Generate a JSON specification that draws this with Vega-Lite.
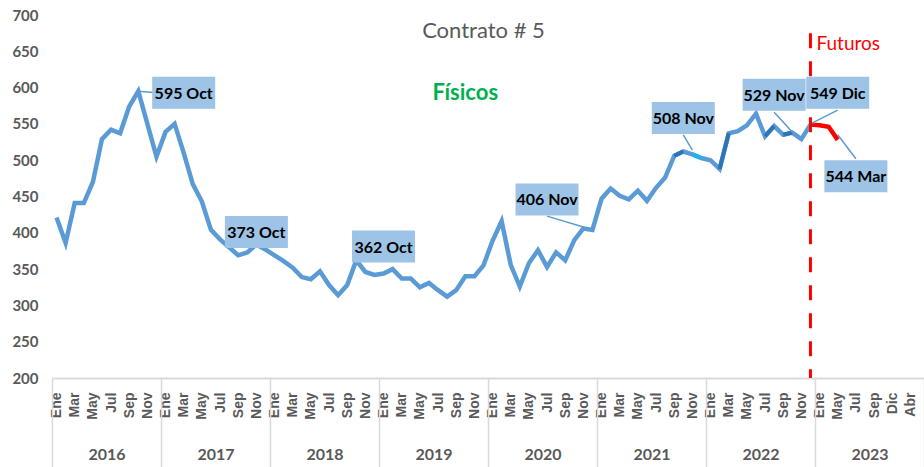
{
  "$schema": "https://vega.github.io/schema/vega-lite/v6.json",
  "width": 872,
  "height": 363,
  "autosize": {"type": "none"},
  "padding": {"left": 52, "top": 15, "right": 0, "bottom": 89},
  "background": "white",
  "config": {"view": {"stroke": null}, "font": "Lato", "axis": {"grid": false}},
  "datasets": {
    "precios": [
      {"periodo": "2016-01", "valor": 421, "serie": "Físicos"},
      {"periodo": "2016-02", "valor": 386, "serie": "Físicos"},
      {"periodo": "2016-03", "valor": 441, "serie": "Físicos"},
      {"periodo": "2016-04", "valor": 441, "serie": "Físicos"},
      {"periodo": "2016-05", "valor": 470, "serie": "Físicos"},
      {"periodo": "2016-06", "valor": 529, "serie": "Físicos"},
      {"periodo": "2016-07", "valor": 542, "serie": "Físicos"},
      {"periodo": "2016-08", "valor": 537, "serie": "Físicos"},
      {"periodo": "2016-09", "valor": 574, "serie": "Físicos"},
      {"periodo": "2016-10", "valor": 595, "serie": "Físicos"},
      {"periodo": "2016-11", "valor": 550, "serie": "Físicos"},
      {"periodo": "2016-12", "valor": 505, "serie": "Físicos"},
      {"periodo": "2017-01", "valor": 539, "serie": "Físicos"},
      {"periodo": "2017-02", "valor": 550, "serie": "Físicos"},
      {"periodo": "2017-03", "valor": 510, "serie": "Físicos"},
      {"periodo": "2017-04", "valor": 467, "serie": "Físicos"},
      {"periodo": "2017-05", "valor": 443, "serie": "Físicos"},
      {"periodo": "2017-06", "valor": 404, "serie": "Físicos"},
      {"periodo": "2017-07", "valor": 391, "serie": "Físicos"},
      {"periodo": "2017-08", "valor": 380, "serie": "Físicos"},
      {"periodo": "2017-09", "valor": 369, "serie": "Físicos"},
      {"periodo": "2017-10", "valor": 373, "serie": "Físicos"},
      {"periodo": "2017-11", "valor": 384, "serie": "Físicos"},
      {"periodo": "2017-12", "valor": 377, "serie": "Físicos"},
      {"periodo": "2018-01", "valor": 369, "serie": "Físicos"},
      {"periodo": "2018-02", "valor": 361, "serie": "Físicos"},
      {"periodo": "2018-03", "valor": 352, "serie": "Físicos"},
      {"periodo": "2018-04", "valor": 339, "serie": "Físicos"},
      {"periodo": "2018-05", "valor": 336, "serie": "Físicos"},
      {"periodo": "2018-06", "valor": 347, "serie": "Físicos"},
      {"periodo": "2018-07", "valor": 328, "serie": "Físicos"},
      {"periodo": "2018-08", "valor": 314, "serie": "Físicos"},
      {"periodo": "2018-09", "valor": 328, "serie": "Físicos"},
      {"periodo": "2018-10", "valor": 362, "serie": "Físicos"},
      {"periodo": "2018-11", "valor": 346, "serie": "Físicos"},
      {"periodo": "2018-12", "valor": 342, "serie": "Físicos"},
      {"periodo": "2019-01", "valor": 344, "serie": "Físicos"},
      {"periodo": "2019-02", "valor": 350, "serie": "Físicos"},
      {"periodo": "2019-03", "valor": 337, "serie": "Físicos"},
      {"periodo": "2019-04", "valor": 337, "serie": "Físicos"},
      {"periodo": "2019-05", "valor": 325, "serie": "Físicos"},
      {"periodo": "2019-06", "valor": 331, "serie": "Físicos"},
      {"periodo": "2019-07", "valor": 321, "serie": "Físicos"},
      {"periodo": "2019-08", "valor": 312, "serie": "Físicos"},
      {"periodo": "2019-09", "valor": 321, "serie": "Físicos"},
      {"periodo": "2019-10", "valor": 340, "serie": "Físicos"},
      {"periodo": "2019-11", "valor": 340, "serie": "Físicos"},
      {"periodo": "2019-12", "valor": 355, "serie": "Físicos"},
      {"periodo": "2020-01", "valor": 389, "serie": "Físicos"},
      {"periodo": "2020-02", "valor": 416, "serie": "Físicos"},
      {"periodo": "2020-03", "valor": 356, "serie": "Físicos"},
      {"periodo": "2020-04", "valor": 326, "serie": "Físicos"},
      {"periodo": "2020-05", "valor": 358, "serie": "Físicos"},
      {"periodo": "2020-06", "valor": 376, "serie": "Físicos"},
      {"periodo": "2020-07", "valor": 353, "serie": "Físicos"},
      {"periodo": "2020-08", "valor": 373, "serie": "Físicos"},
      {"periodo": "2020-09", "valor": 362, "serie": "Físicos"},
      {"periodo": "2020-10", "valor": 390, "serie": "Físicos"},
      {"periodo": "2020-11", "valor": 406, "serie": "Físicos"},
      {"periodo": "2020-12", "valor": 404, "serie": "Físicos"},
      {"periodo": "2021-01", "valor": 447, "serie": "Físicos"},
      {"periodo": "2021-02", "valor": 461, "serie": "Físicos"},
      {"periodo": "2021-03", "valor": 451, "serie": "Físicos"},
      {"periodo": "2021-04", "valor": 446, "serie": "Físicos"},
      {"periodo": "2021-05", "valor": 458, "serie": "Físicos"},
      {"periodo": "2021-06", "valor": 444, "serie": "Físicos"},
      {"periodo": "2021-07", "valor": 462, "serie": "Físicos"},
      {"periodo": "2021-08", "valor": 476, "serie": "Físicos"},
      {"periodo": "2021-09", "valor": 506, "serie": "Físicos"},
      {"periodo": "2021-10", "valor": 512, "serie": "Físicos"},
      {"periodo": "2021-11", "valor": 508, "serie": "Físicos"},
      {"periodo": "2021-12", "valor": 503, "serie": "Físicos"},
      {"periodo": "2022-01", "valor": 500, "serie": "Físicos"},
      {"periodo": "2022-02", "valor": 488, "serie": "Físicos"},
      {"periodo": "2022-03", "valor": 537, "serie": "Físicos"},
      {"periodo": "2022-04", "valor": 540, "serie": "Físicos"},
      {"periodo": "2022-05", "valor": 548, "serie": "Físicos"},
      {"periodo": "2022-06", "valor": 564, "serie": "Físicos"},
      {"periodo": "2022-07", "valor": 533, "serie": "Físicos"},
      {"periodo": "2022-08", "valor": 547, "serie": "Físicos"},
      {"periodo": "2022-09", "valor": 535, "serie": "Físicos"},
      {"periodo": "2022-10", "valor": 538, "serie": "Físicos"},
      {"periodo": "2022-11", "valor": 529, "serie": "Físicos"},
      {"periodo": "2022-12", "valor": 549, "serie": "Físicos"},
      {"periodo": "2022-12", "valor": 549, "serie": "Futuros"},
      {"periodo": "2023-01", "valor": 548, "serie": "Futuros"},
      {"periodo": "2023-02", "valor": 546, "serie": "Futuros"},
      {"periodo": "2023-03", "valor": 528, "serie": "Futuros"}
    ],
    "tramos": [
      {"tramo": "A", "tono": "Oscuro", "periodo": "2021-09", "valor": 506},
      {"tramo": "A", "tono": "Oscuro", "periodo": "2021-10", "valor": 512},
      {"tramo": "B", "tono": "Claro", "periodo": "2021-11", "valor": 508},
      {"tramo": "B", "tono": "Claro", "periodo": "2021-12", "valor": 503},
      {"tramo": "C", "tono": "Oscuro", "periodo": "2022-02", "valor": 488},
      {"tramo": "C", "tono": "Oscuro", "periodo": "2022-03", "valor": 537},
      {"tramo": "D", "tono": "Oscuro", "periodo": "2022-07", "valor": 533},
      {"tramo": "D", "tono": "Oscuro", "periodo": "2022-08", "valor": 547},
      {"tramo": "E", "tono": "Oscuro", "periodo": "2022-09", "valor": 535},
      {"tramo": "E", "tono": "Oscuro", "periodo": "2022-10", "valor": 538}
    ],
    "etiquetas": [
      {"periodo": "2017-03", "valor": 593, "texto": "595 Oct"},
      {"periodo": "2017-11", "valor": 401, "texto": "373 Oct"},
      {"periodo": "2019-01", "valor": 381, "texto": "362 Oct"},
      {"periodo": "2020-07", "valor": 446, "texto": "406 Nov"},
      {"periodo": "2021-10", "valor": 558, "texto": "508 Nov"},
      {"periodo": "2022-08", "valor": 590, "texto": "529 Nov"},
      {"periodo": "2023-03", "valor": 593, "texto": "549 Dic"},
      {"periodo": "2023-05", "valor": 478, "texto": "544 Mar"}
    ],
    "guias": [
      {"periodo": "2016-10", "valor": 595, "periodo2": "2016-12", "valor2": 593},
      {"periodo": "2020-07", "valor": 423, "periodo2": "2020-11", "valor2": 408},
      {"periodo": "2021-10", "valor": 535, "periodo2": "2021-11", "valor2": 514},
      {"periodo": "2022-08", "valor": 566, "periodo2": "2022-10", "valor2": 539},
      {"periodo": "2023-03", "valor": 569, "periodo2": "2022-12", "valor2": 550},
      {"periodo": "2023-05", "valor": 502, "periodo2": "2023-03", "valor2": 535}
    ]
  },
  "layer": [
    {
      "encoding": {
        "x": {
          "field": "periodo",
          "type": "ordinal",
          "scale": {
            "type": "point",
            "padding": 0.5,
            "domain": [
              "2016-01","2016-02","2016-03","2016-04","2016-05","2016-06","2016-07","2016-08","2016-09","2016-10","2016-11","2016-12",
              "2017-01","2017-02","2017-03","2017-04","2017-05","2017-06","2017-07","2017-08","2017-09","2017-10","2017-11","2017-12",
              "2018-01","2018-02","2018-03","2018-04","2018-05","2018-06","2018-07","2018-08","2018-09","2018-10","2018-11","2018-12",
              "2019-01","2019-02","2019-03","2019-04","2019-05","2019-06","2019-07","2019-08","2019-09","2019-10","2019-11","2019-12",
              "2020-01","2020-02","2020-03","2020-04","2020-05","2020-06","2020-07","2020-08","2020-09","2020-10","2020-11","2020-12",
              "2021-01","2021-02","2021-03","2021-04","2021-05","2021-06","2021-07","2021-08","2021-09","2021-10","2021-11","2021-12",
              "2022-01","2022-02","2022-03","2022-04","2022-05","2022-06","2022-07","2022-08","2022-09","2022-10","2022-11","2022-12",
              "2023-01","2023-02","2023-03","2023-04","2023-05","2023-06","2023-07","2023-08","2023-09","2023-10","2023-11","2023-12"
            ]
          },
          "axis": {
            "orient": "bottom",
            "title": null,
            "domain": false,
            "ticks": false,
            "labelAngle": -90,
            "labelAlign": "right",
            "labelBaseline": "middle",
            "labelPadding": 14,
            "labelFont": "Liberation Sans",
            "labelFontWeight": "bold",
            "labelFontSize": 14,
            "labelColor": "#595959",
            "labelOverlap": false,
            "labelExpr": "toNumber(substring(datum.value,5,7)) % 2 == 0 ? '' : (substring(datum.value,0,4) == '2023' ? ['Ene','','May','','Jul','','Sep','','Dic','','Abr',''] : ['Ene','Feb','Mar','Abr','May','Jun','Jul','Ago','Sep','Oct','Nov','Dic'])[toNumber(substring(datum.value,5,7)) - 1]"
          }
        },
        "y": {
          "field": "valor",
          "type": "quantitative",
          "scale": {"domain": [200, 700], "nice": false, "zero": false},
          "axis": {
            "title": null,
            "domain": false,
            "ticks": false,
            "grid": false,
            "values": [200, 250, 300, 350, 400, 450, 500, 550, 600, 650, 700],
            "labelFontSize": 15,
            "labelFontWeight": "bold",
            "labelColor": "#595959",
            "labelPadding": 14
          }
        }
      },
      "layer": [
        {
          "data": {"name": "precios"},
          "mark": {"type": "line", "strokeWidth": 4.5},
          "encoding": {
            "color": {
              "field": "serie",
              "type": "nominal",
              "scale": {"domain": ["Físicos", "Futuros"], "range": ["#5B9BD5", "#FF0000"]},
              "legend": null
            }
          }
        },
        {
          "data": {"name": "tramos"},
          "mark": {"type": "line", "strokeWidth": 4},
          "encoding": {
            "detail": {"field": "tramo"},
            "stroke": {
              "field": "tono",
              "type": "nominal",
              "scale": {"domain": ["Oscuro", "Claro"], "range": ["#2E75B6", "#1FB4EC"]},
              "legend": null
            }
          }
        },
        {
          "data": {"name": "guias"},
          "mark": {"type": "rule", "color": "#5B9BD5", "strokeWidth": 1.5},
          "encoding": {
            "x2": {"field": "periodo2"},
            "y2": {"field": "valor2"}
          }
        },
        {
          "data": {"values": [{"periodo": "2022-12", "valor": 675, "valor2": 200}]},
          "mark": {"type": "rule", "color": "#FF0000", "strokeWidth": 3, "strokeDash": [15, 13]},
          "encoding": {
            "y2": {"field": "valor2"}
          }
        },
        {
          "data": {"name": "etiquetas"},
          "mark": {"type": "point", "shape": "M-1,-0.508H1V0.508H-1Z", "filled": true, "fill": "#9DC3E6", "opacity": 1, "size": 3969, "strokeWidth": 0},
          "encoding": {}
        },
        {
          "data": {"name": "etiquetas"},
          "mark": {"type": "text", "fontSize": 16, "fontWeight": "bold", "color": "#000000", "align": "center", "baseline": "middle", "dy": 1},
          "encoding": {"text": {"field": "texto"}}
        },
        {
          "data": {"values": [{"periodo": "2019-12", "valor": 668, "texto": "Contrato # 5"}]},
          "mark": {"type": "text", "fontSize": 22, "color": "#595959", "align": "center", "baseline": "alphabetic"},
          "encoding": {"text": {"field": "texto"}}
        },
        {
          "data": {"values": [{"periodo": "2019-10", "valor": 583, "texto": "Físicos"}]},
          "mark": {"type": "text", "fontSize": 22, "fontWeight": "bold", "color": "#00B050", "align": "center", "baseline": "alphabetic"},
          "encoding": {"text": {"field": "texto"}}
        },
        {
          "data": {"values": [{"periodo": "2022-12", "valor": 652, "texto": "Futuros"}]},
          "mark": {"type": "text", "fontSize": 19, "color": "#FF0000", "align": "left", "baseline": "alphabetic", "dx": 6},
          "encoding": {"text": {"field": "texto"}}
        }
      ]
    },
    {
      "data": {"values": [
        {"anio": "2016"}, {"anio": "2017"}, {"anio": "2018"}, {"anio": "2019"},
        {"anio": "2020"}, {"anio": "2021"}, {"anio": "2022"}, {"anio": "2023"}
      ]},
      "mark": {"type": "tick", "opacity": 0},
      "encoding": {
        "x": {
          "field": "anio",
          "type": "ordinal",
          "scale": {"type": "band", "paddingInner": 0, "paddingOuter": 0, "domain": ["2016", "2017", "2018", "2019", "2020", "2021", "2022", "2023"]},
          "axis": {
            "orient": "bottom",
            "title": null,
            "domain": true,
            "domainColor": "#D9D9D9",
            "domainWidth": 2,
            "ticks": true,
            "tickBand": "extent",
            "tickSize": 89,
            "tickColor": "#D9D9D9",
            "tickWidth": 1.5,
            "labelAngle": 0,
            "labelPadding": -21,
            "labelFontSize": 16,
            "labelFontWeight": "bold",
            "labelColor": "#595959"
          }
        }
      }
    }
  ],
  "resolve": {"scale": {"x": "independent"}}
}
